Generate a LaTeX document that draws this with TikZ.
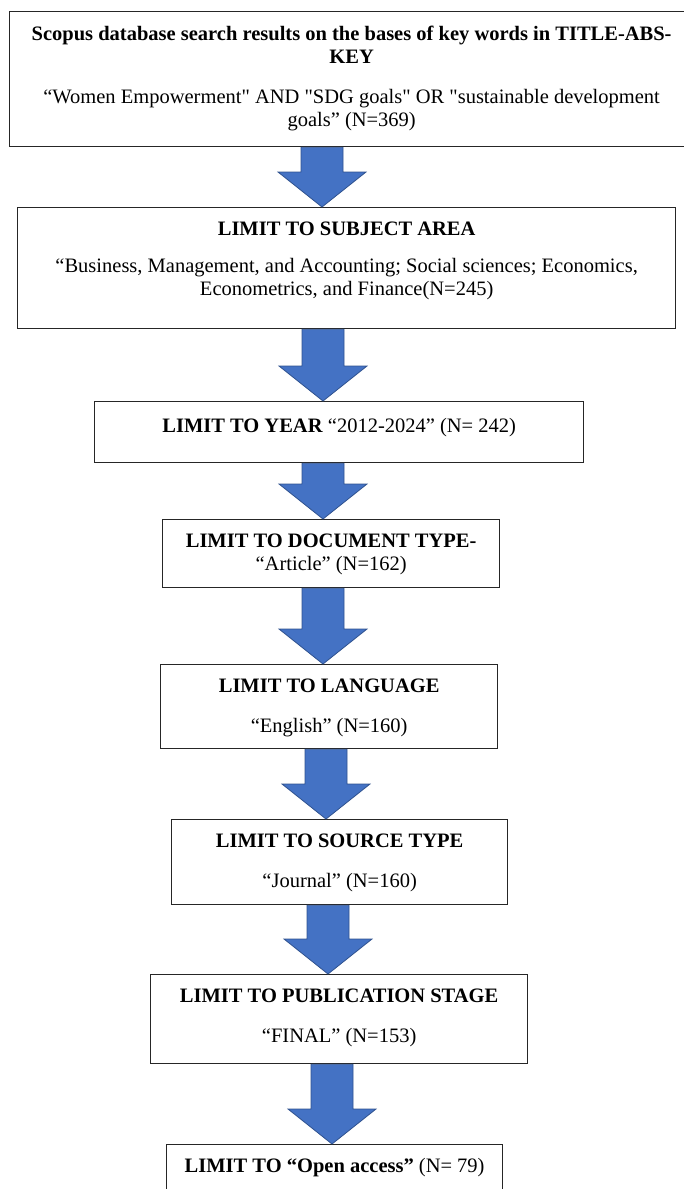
\documentclass[tikz,border=0pt]{standalone}
\usepackage{fontspec}
\setmainfont{Liberation Serif}[Ligatures=TeXOff]
\usetikzlibrary{calc}
\definecolor{cblock}{HTML}{4472C4}
\definecolor{cblockline}{HTML}{2F528F}
\definecolor{cframe}{HTML}{262626}
\tikzset{
  every picture/.style={font=\fontsize{20.5}{23}\selectfont},
  stage/.style={draw=cframe, line width=1.3pt, inner sep=0pt, anchor=north west},
  blockarrow/.style={fill=cblock, draw=cblockline, line width=0.8pt},
}
% box of given width/height (pt) with its text at the top
\newcommand{\stagetext}[3]{\parbox[c][#2pt][t]{#1pt}{\centering\vspace*{14pt}#3}}
% fat blue arrow at x from one box down to the next
\newcommand{\flowarrow}[3]{%
  \path[blockarrow] let \p1=(#2.south), \p2=(#3.north) in
    (#1-21,\y1) -- (#1+21,\y1) -- (#1+21,\y2+35) -- (#1+44,\y2+35) -- (#1,\y2) -- (#1-44,\y2+35) -- (#1-21,\y2+35) -- cycle;}

\begin{document}
\begin{tikzpicture}[x=1pt, y=-1pt]
  \useasboundingbox (0,0) rectangle (684,1189);
  \node[stage] (search) at (9,11) {\stagetext{684}{135}{\textbf{Scopus database search results on the bases of key words in TITLE-ABS-\\KEY}\\[17pt]“Women Empowerment" AND "SDG goals" OR "sustainable development\\goals” (N=369)}};
  \node[stage] (subject) at (17,207) {\stagetext{658}{121}{\textbf{LIMIT TO SUBJECT AREA}\\[14pt]“Business, Management, and Accounting; Social sciences; Economics,\\Econometrics, and Finance(N=245)}};
  \node[stage] (year) at (94,401) {\stagetext{489}{61}{\vspace{3pt}\textbf{LIMIT TO YEAR} “2012-2024” (N= 242)}};
  \node[stage] (doctype) at (162,519) {\stagetext{337}{68}{\textbf{LIMIT TO DOCUMENT TYPE-}\\“Article” (N=162)}};
  \node[stage] (language) at (160,664) {\stagetext{337}{84}{\textbf{LIMIT TO LANGUAGE}\\[17pt]“English” (N=160)}};
  \node[stage] (source) at (171,819) {\stagetext{336}{85}{\textbf{LIMIT TO SOURCE TYPE}\\[17pt]“Journal” (N=160)}};
  \node[stage] (stage) at (150,974) {\stagetext{377}{89}{\textbf{LIMIT TO PUBLICATION STAGE}\\[17pt]“FINAL” (N=153)}};
  \node[stage] (access) at (166,1144) {\stagetext{336}{60}{\textbf{LIMIT TO “Open access”} (N= 79)}};
  % blue block arrows
  \flowarrow{322}{search}{subject}
  \flowarrow{323}{subject}{year}
  \flowarrow{323}{year}{doctype}
  \flowarrow{323}{doctype}{language}
  \flowarrow{326}{language}{source}
  \flowarrow{328}{source}{stage}
  \flowarrow{332}{stage}{access}
\end{tikzpicture}
\end{document}
